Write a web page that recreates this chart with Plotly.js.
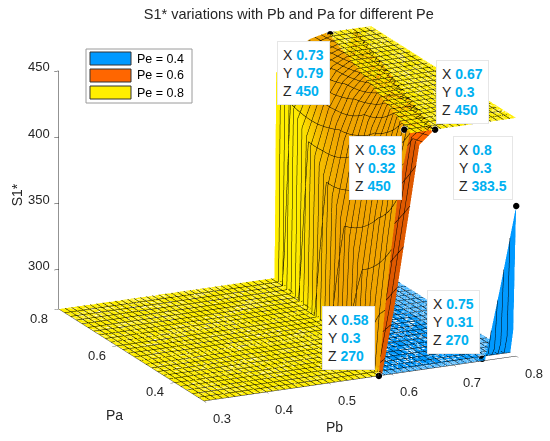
<!DOCTYPE html>
<html>
<head>
<meta charset="utf-8">
<script>
(function () {
  const orig = HTMLCanvasElement.prototype.getContext;
  HTMLCanvasElement.prototype.getContext = function (t, a) {
    if (t && String(t).indexOf('webgl') >= 0) { a = Object.assign({}, a || {}, {preserveDrawingBuffer: true}); }
    return orig.call(this, t, a);
  };
})();
</script>
<script src="https://cdn.plot.ly/plotly-3.0.1.min.js"></script>
<style>html,body{margin:0;padding:0;background:#fff}#plot{width:550px;height:441px}</style>
</head>
<body>
<div id="plot"></div>
<script>
// ---- data ----
const legendLabels = ['Pe = 0.4', 'Pe = 0.6', 'Pe = 0.8'];
const peColors = ['#0099ff', '#ff6600', '#ffee00'];
const amber = '#f0a400';

// Pe = 0.8 (yellow) : rows = Pa, each row = Pb breakpoints and S1* values
const paYellow = [0.3, 0.4, 0.5, 0.6, 0.7, 0.8];
const pbYellow = [
  [0.30, 0.580, 0.581, 0.588, 0.600, 0.612, 0.630, 0.632, 0.80],
  [0.30, 0.593, 0.594, 0.600, 0.615, 0.632, 0.650, 0.652, 0.80],
  [0.30, 0.606, 0.607, 0.612, 0.630, 0.650, 0.670, 0.672, 0.80],
  [0.30, 0.619, 0.620, 0.624, 0.645, 0.668, 0.690, 0.692, 0.80],
  [0.30, 0.632, 0.633, 0.636, 0.660, 0.686, 0.710, 0.712, 0.80],
  [0.30, 0.645, 0.646, 0.648, 0.675, 0.703, 0.730, 0.732, 0.80]
];
const s1Yellow = [
  [270, 270, 275, 310, 364, 410, 450, 450, 450],
  [270, 270, 280, 335, 385, 425, 450, 450, 450],
  [270, 270, 285, 360, 405, 435, 450, 450, 450],
  [270, 270, 290, 385, 420, 441, 450, 450, 450],
  [270, 270, 295, 405, 432, 445, 450, 450, 450],
  [270, 270, 300, 425, 440, 447, 450, 450, 450]
];
// shade of the yellow sheet (0 = yellow, 1 = amber where it meets the Pe = 0.6 sheet)
const shadeYellow = [
  [0, 0, 1, 1, 1, 1, 1, 0, 0],
  [0, 0, 1, 1, 1, 1, 1, 0, 0],
  [0, 0, 1, 1, 1, 1, 1, 0, 0],
  [0, 0, 0.6, 0.6, 1, 1, 1, 0, 0],
  [0, 0, 0, 0, 1, 1, 1, 0, 0],
  [0, 0, 0, 0, 1, 1, 1, 0, 0]
];

// Pe = 0.6 (orange)
const paOrange = [0.3, 0.4, 0.5, 0.6, 0.7, 0.8];
const pbOrange = [
  [0.585, 0.605, 0.625, 0.645, 0.669],
  [0.598, 0.618, 0.638, 0.660, 0.690],
  [0.611, 0.631, 0.653, 0.680, 0.711],
  [0.624, 0.645, 0.670, 0.700, 0.732],
  [0.637, 0.660, 0.687, 0.723, 0.753],
  [0.650, 0.675, 0.705, 0.745, 0.774]
];
const s1Orange = [
  [270, 320, 380, 440, 450],
  [270, 320, 380, 440, 450],
  [270, 320, 380, 440, 450],
  [270, 315, 370, 430, 450],
  [270, 310, 350, 420, 450],
  [270, 310, 350, 410, 450]
];

// Pe = 0.4 (blue)
const paBlue = [0.30, 0.31, 0.32, 0.80];
const pbBlue = [
  [0.582, 0.740, 0.750, 0.775, 0.800],
  [0.583, 0.740, 0.750, 0.775, 0.800],
  [0.584, 0.740, 0.750, 0.775, 0.800],
  [0.648, 0.740, 0.750, 0.775, 0.800]
];
const s1Blue = [
  [270, 270, 270, 325, 383.5],
  [270, 270, 270, 278, 288],
  [270, 270, 270, 270, 270],
  [270, 270, 270, 270, 270]
];

// data tips
const tipPb = [0.73, 0.67, 0.63, 0.8, 0.58, 0.75];
const tipPa = [0.79, 0.3, 0.32, 0.3, 0.3, 0.31];
const tipS1 = [450, 450, 450, 383.5, 270, 270];
const tipDx = [-27, 28, -29, -33, -30, -29];
const tipDy = [39, -38, 38, -38, -38, -37];

const pbTicks = [0.3, 0.4, 0.5, 0.6, 0.7, 0.8];
const paTicks = [0.4, 0.6, 0.8];
const s1Ticks = [300, 350, 400, 450];
const axisTitles = {pb: 'Pb', pa: 'Pa', s1: 'S1*'};

// ---- build ----
const FONT = 'Liberation Sans, Arial, Helvetica, sans-serif';
const TXT = '#262626';
function hatch() {
  return {
    x: {show: true, start: 0.3, end: 0.8, size: 0.01, color: '#000', width: 1, highlight: false},
    y: {show: true, start: 0.3, end: 0.8, size: 0.02, color: '#000', width: 1, highlight: false},
    z: {highlight: false}
  };
}
const flat = {ambient: 1, diffuse: 0.15, specular: 0, roughness: 1, fresnel: 0};

const traces = [
  {
    type: 'surface', x: pbBlue, y: paBlue, z: s1Blue,
    colorscale: [[0, peColors[0]], [1, peColors[0]]], showscale: false,
    lighting: flat, contours: hatch(), hoverinfo: 'skip'
  },
  {
    type: 'surface', x: pbOrange, y: paOrange, z: s1Orange,
    colorscale: [[0, peColors[1]], [1, peColors[1]]], showscale: false,
    lighting: {ambient: 0.85, diffuse: 0.3, specular: 0, roughness: 1, fresnel: 0},
    contours: hatch(), hoverinfo: 'skip'
  },
  {
    type: 'surface', x: pbYellow, y: paYellow, z: s1Yellow,
    surfacecolor: shadeYellow, cmin: 0, cmax: 1,
    colorscale: [[0, peColors[2]], [1, amber]], showscale: false,
    lighting: flat, contours: hatch(), hoverinfo: 'skip'
  },
  {
    type: 'scatter3d', mode: 'markers', x: tipPb, y: tipPa, z: tipS1,
    marker: {size: 4, color: '#000', line: {color: '#fff', width: 1}}, hoverinfo: 'skip'
  }
];

const CY = '#00b0f0';
const sceneAnn = tipPb.map((v, i) => ({
  x: v, y: tipPa[i], z: tipS1[i],
  text: 'X <b><span style="color:' + CY + '">' + v + '</span></b><br>' +
        'Y <b><span style="color:' + CY + '">' + tipPa[i] + '</span></b><br>' +
        'Z <b><span style="color:' + CY + '">' + tipS1[i] + '</span></b>',
  showarrow: true, arrowcolor: 'rgba(0,0,0,0)', arrowwidth: 0.1, arrowhead: 0,
  ax: tipDx[i], ay: tipDy[i], align: 'left',
  bgcolor: '#ffffff', bordercolor: '#e6e6e6', borderwidth: 1, borderpad: 5,
  font: {family: FONT, size: 14, color: '#262626'}
}));

// tick labels drawn horizontally (as MATLAB does) at the axis tick positions
const tickFont = {family: FONT, size: 13, color: TXT};
pbTicks.forEach(v => sceneAnn.push({x: v, y: 0.3, z: 270, text: String(v), showarrow: false,
  xshift: 18, yshift: -17, font: tickFont}));
paTicks.forEach(v => sceneAnn.push({x: 0.3, y: v, z: 270, text: String(v), showarrow: false,
  xshift: -20, yshift: -9, font: tickFont}));
s1Ticks.forEach(v => sceneAnn.push({x: 0.3, y: 0.8, z: v, text: String(v), showarrow: false,
  xanchor: 'right', xshift: -7, yshift: 4, font: tickFont}));
const titleFont = {family: FONT, size: 14, color: TXT};
sceneAnn.push({x: 0.55, y: 0.3, z: 270, text: axisTitles.pb, showarrow: false, xshift: -25, yshift: -48, font: titleFont});
sceneAnn.push({x: 0.3, y: 0.55, z: 270, text: axisTitles.pa, showarrow: false, xshift: -17, yshift: -60, font: titleFont});
sceneAnn.push({x: 0.3, y: 0.8, z: 355, text: axisTitles.s1, showarrow: false, xshift: -42, yshift: 2,
  textangle: -90, font: titleFont});

const W = 550, H = 441;
const px = v => v / W, py = v => 1 - v / H;
const shapes = [{type: 'rect', xref: 'paper', yref: 'paper', x0: px(86), x1: px(192), y0: py(103), y1: py(49),
                 line: {color: '#9a9a9a', width: 1}, fillcolor: '#fff'}];
const anns = [];
legendLabels.forEach((lab, i) => {
  const top = 52 + i * 17;
  shapes.push({type: 'rect', xref: 'paper', yref: 'paper', x0: px(90), x1: px(131), y0: py(top + 13), y1: py(top),
               line: {color: '#333', width: 1}, fillcolor: peColors[i]});
  anns.push({xref: 'paper', yref: 'paper', x: px(135), y: py(top + 6.5), xanchor: 'left', yanchor: 'middle',
             text: lab, showarrow: false, font: {family: FONT, size: 12.5, color: '#000'}});
});

function ax(range, tickvals) {
  return {
    title: {text: ''},
    range: range, tickvals: tickvals, ticks: 'outside', ticklen: 5, tickcolor: TXT,
    showticklabels: false,
    showgrid: false, zeroline: false, showline: true, linecolor: TXT, linewidth: 1,
    showbackground: false, showspikes: false, autorange: false
  };
}

const layout = {
  width: W, height: H, margin: {l: 0, r: 0, t: 0, b: 0},
  paper_bgcolor: '#fff', showlegend: false,
  title: {text: 'S1* variations with Pb and Pa for different Pe', x: 0.525, y: 0.968,
          xanchor: 'center', yanchor: 'middle', font: {family: FONT, size: 14.5, color: TXT}},
  scene: {
    domain: {x: [0.045, 1], y: [0.031, 1]},
    aspectmode: 'manual', aspectratio: {x: 1.62, y: 1.58, z: 1.17},
    camera: {eye: {x: -0.519, y: -1.089, z: 0.382}, center: {x: 0, y: 0, z: 0}, up: {x: 0, y: 0, z: 1},
             projection: {type: 'orthographic'}},
    xaxis: ax([0.3, 0.8], pbTicks),
    yaxis: ax([0.3, 0.8], paTicks),
    zaxis: ax([270, 450], s1Ticks),
    annotations: sceneAnn
  },
  shapes: shapes, annotations: anns
};

Plotly.newPlot('plot', traces, layout, {displayModeBar: false});
</script>
</body>
</html>
